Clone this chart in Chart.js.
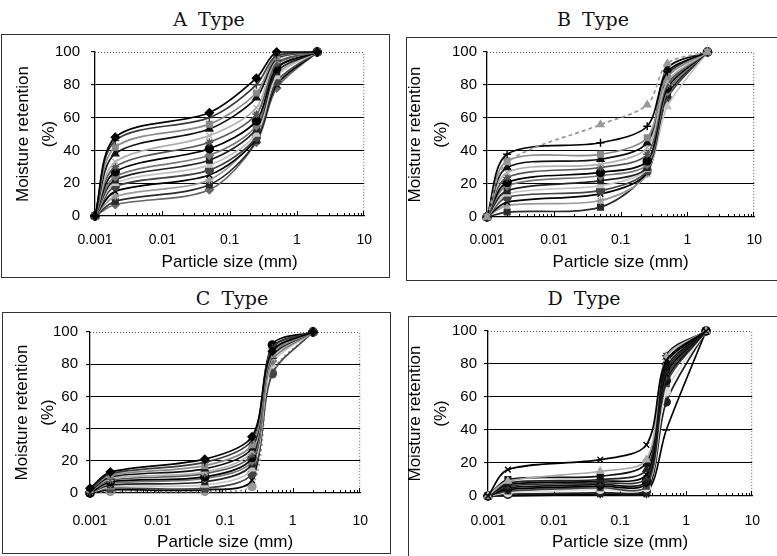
<!DOCTYPE html>
<html><head><meta charset="utf-8">
<script src="https://cdn.jsdelivr.net/npm/chart.js@4"></script>
<style>
html,body{margin:0;padding:0;background:#fff;}
body{width:777px;height:556px;position:relative;overflow:hidden;}
.frame{position:absolute;border:1px solid #333;box-sizing:border-box;}
.ttl{position:absolute;font-family:"DejaVu Serif",serif;font-size:19px;color:#111;word-spacing:5px;transform:translate(-50%,-50%);white-space:nowrap;}
canvas{position:absolute;}
</style></head><body>
<div class="frame" style="left:1px;top:34px;width:389px;height:244px"></div>
<div class="frame" style="left:406px;top:37px;width:380px;height:244px"></div>
<div class="frame" style="left:2px;top:312px;width:389px;height:242px"></div>
<div class="frame" style="left:408px;top:316px;width:380px;height:250px"></div>
<div class="ttl" style="left:209px;top:19px">A Type</div>
<div class="ttl" style="left:593px;top:19px">B Type</div>
<div class="ttl" style="left:232px;top:298px">C Type</div>
<div class="ttl" style="left:584px;top:298px">D Type</div>
<canvas id="cA" width="388" height="250" style="left:0px;top:30px"></canvas>
<canvas id="cB" width="387" height="250" style="left:390px;top:30px"></canvas>
<canvas id="cC" width="388" height="251" style="left:0px;top:305px"></canvas>
<canvas id="cD" width="387" height="251" style="left:390px;top:305px"></canvas>
<script>
// ---- data ----
const particleSizes = [0.001, 0.002, 0.05, 0.25, 0.5, 2];
const xTickValues = [0.001, 0.01, 0.1, 1, 10];
const xTickLabels = ['0.001', '0.01', '0.1', '1', '10'];
const yTickValues = [0, 20, 40, 60, 80, 100];
const yTickLabels = ['0', '20', '40', '60', '80', '100'];
const panelTitles = ['A Type', 'B Type', 'C Type', 'D Type'];
const xAxisTitle = 'Particle size (mm)';
const yAxisTitle = ['Moisture retention', '(%)'];

const typeA = [
  [0, 48, 63, 84, 100, 100],
  [0, 46, 60, 80, 98, 100],
  [0, 42, 56, 75, 97, 100],
  [0, 38, 53, 72, 96, 100],
  [0, 33, 49, 66, 95, 100],
  [0, 30, 45, 62, 93, 100],
  [0, 27, 41, 58, 90, 100],
  [0, 24, 37, 55, 92, 100],
  [0, 22, 34, 53, 88, 100],
  [0, 20, 31, 50, 85, 100],
  [0, 18, 28, 48, 82, 100],
  [0, 15, 25, 47, 80, 100],
  [0, 12, 22, 49, 86, 100],
  [0, 9, 19, 46, 90, 100],
  [0, 7, 16, 45, 78, 100]
];
const typeB = [
  [0, 33, 56, 68, 93, 100],
  [0, 38, 45, 55, 88, 100],
  [0, 34, 38, 48, 85, 100],
  [0, 30, 35, 45, 90, 100],
  [0, 27, 32, 42, 82, 100],
  [0, 24, 30, 38, 80, 100],
  [0, 21, 27, 34, 78, 100],
  [0, 19, 25, 32, 76, 100],
  [0, 16, 22, 30, 74, 100],
  [0, 14, 19, 29, 67, 100],
  [0, 12, 16, 28, 72, 100],
  [0, 9, 14, 27, 80, 100],
  [0, 7, 10, 26, 84, 100],
  [0, 3, 6, 28, 86, 100]
];
const typeC = [
  [3, 13, 21, 35, 88, 100],
  [2, 12, 19, 33, 90, 100],
  [2, 11, 17, 30, 86, 100],
  [1, 10, 15, 28, 85, 100],
  [1, 9, 13, 26, 84, 100],
  [1, 8, 12, 24, 88, 100],
  [0, 7, 10, 22, 92, 100],
  [0, 6, 9, 20, 82, 100],
  [0, 5, 7, 18, 86, 100],
  [0, 4, 5, 15, 80, 100],
  [0, 3, 3, 12, 74, 100],
  [0, 2, 2, 8, 90, 100],
  [0, 1, 1, 4, 75, 100]
];
const typeD = [
  [0, 16, 22, 31, 82, 100],
  [0, 9, 15, 22, 84, 100],
  [0, 10, 12, 20, 78, 100],
  [0, 8, 10, 16, 76, 100],
  [0, 7, 9, 13, 74, 100],
  [0, 6, 8, 11, 72, 100],
  [0, 5, 7, 9, 70, 100],
  [0, 4, 6, 8, 80, 100],
  [0, 3, 5, 6, 68, 100],
  [0, 2, 4, 5, 63, 100],
  [0, 1, 2, 3, 57, 100],
  [0, 0, 1, 2, 40, 100],
  [0, 1, 1, 1, 85, 100]
];

// ---- styles ----
const palette = ['#000000','#3a3a3a','#8a8a8a','#111111','#b0b0b0','#555555','#000000','#777777','#222222','#c4c4c4','#444444','#000000','#999999','#2a2a2a','#666666'];
const shapes = ['rectRot','cross','rect','triangle','crossRot','star','circle','rectRot','rect','triangle','circle','crossRot','star','rect','rectRot'];
const overrides = {
  B: {0: {color:'#999999', shape:'triangle', dash:[4,3]}, 1: {color:'#000000', shape:'cross'}},
  C: {12: {color:'#999999', shape:'circle', dash:[2,3]}},
  D: {0: {color:'#000000', shape:'crossRot'}, 1: {color:'#aaaaaa', shape:'triangle'}, 9: {color:'#dddddd', shape:'circle'}, 11: {color:'#000000', shape:'line'}}
};
const darkD = ['#000000','#aaaaaa','#111111','#222222','#000000','#333333','#111111','#000000','#444444','#dddddd','#222222','#000000','#111111'];

const layouts = {
  A: {id:'cA', values:typeA, padTop:22, padRight:20, yW:95, xH:64, yTickPad:11, yTitlePad:10, xTickPad:16, xTitlePad:7},
  B: {id:'cB', values:typeB, padTop:22, padRight:15, yW:97, xH:63, yTickPad:6, yTitlePad:12, xTickPad:15, xTitlePad:7},
  C: {id:'cC', values:typeC, padTop:27, padRight:20, yW:90, xH:63, yTickPad:8, yTitlePad:9, xTickPad:20, xTitlePad:3},
  D: {id:'cD', values:typeD, padTop:26, padRight:14, yW:98, xH:60, yTickPad:7, yTitlePad:12, xTickPad:17, xTitlePad:3}
};

Chart.defaults.font.family = "'Liberation Sans', Arial, sans-serif";
Chart.defaults.color = '#000';

const plotBox = {
  id: 'plotBox',
  beforeDatasetsDraw(chart) {
    const {ctx, chartArea: {left, right, top, bottom}} = chart;
    const xs = chart.scales.x;
    ctx.save();
    ctx.strokeStyle = '#555';
    ctx.lineWidth = 1;
    ctx.setLineDash([1, 2]);
    ctx.beginPath();
    ctx.moveTo(left, top + 0.5);
    ctx.lineTo(right - 0.5, top + 0.5);
    ctx.lineTo(right - 0.5, bottom);
    ctx.stroke();
    ctx.setLineDash([]);
    ctx.strokeStyle = '#000';
    ctx.beginPath();
    for (let k = -3; k <= 0; k++) {
      for (let m = 1; m <= 9; m++) {
        const v = m * Math.pow(10, k);
        const px = Math.round(xs.getPixelForValue(v)) + 0.5;
        const len = m === 1 ? 5 : 3;
        ctx.moveTo(px, bottom);
        ctx.lineTo(px, bottom - len);
      }
    }
    const p10 = Math.round(xs.getPixelForValue(10)) - 0.5;
    ctx.moveTo(p10, bottom); ctx.lineTo(p10, bottom - 5);
    ctx.stroke();
    ctx.restore();
  }
};

function makeChart(key) {
  const L = layouts[key];
  const ov = overrides[key] || {};
  const datasets = L.values.map((vals, i) => {
    let color = key === 'D' ? darkD[i % darkD.length] : palette[i % palette.length];
    let shape = shapes[i % shapes.length];
    let dash = [];
    if (ov[i]) { color = ov[i].color || color; shape = ov[i].shape || shape; dash = ov[i].dash || dash; }
    return {
      label: key + (i + 1),
      data: particleSizes.map((x, j) => ({x: x, y: vals[j]})),
      borderColor: color,
      backgroundColor: color,
      borderWidth: 1.7,
      borderDash: dash,
      pointStyle: shape,
      pointRadius: 4,
      pointBorderWidth: 1.4,
      pointBorderColor: color,
      pointBackgroundColor: color,
      tension: 0.3,
      clip: false,
      fill: false
    };
  });
  return new Chart(document.getElementById(L.id), {
    type: 'line',
    data: {datasets},
    plugins: [plotBox],
    options: {
      responsive: false,
      animation: false,
      events: [],
      layout: {padding: {top: L.padTop, right: L.padRight, left: 0, bottom: 0}},
      plugins: {legend: {display: false}, tooltip: {enabled: false}, title: {display: false}},
      scales: {
        x: {
          type: 'logarithmic', min: 0.001, max: 10,
          afterBuildTicks: s => { s.ticks = xTickValues.map(v => ({value: v})); },
          afterFit: s => { s.height = L.xH; },
          ticks: {autoSkip: false, maxRotation: 0, padding: L.xTickPad, color: '#000',
                  font: {size: 14}, callback: (v, i) => xTickLabels[i]},
          grid: {display: true, drawOnChartArea: false, drawTicks: false},
          border: {display: true, color: '#000', width: 1.3},
          title: {display: true, text: xAxisTitle, color: '#000', font: {size: 17},
                  padding: {top: 0, bottom: L.xTitlePad}}
        },
        y: {
          min: 0, max: 100,
          afterBuildTicks: s => { s.ticks = yTickValues.map(v => ({value: v})); },
          afterFit: s => { s.width = L.yW; },
          ticks: {padding: L.yTickPad, color: '#000', font: {size: 15}, callback: (v, i) => yTickLabels[i]},
          grid: {
            color: c => (c.tick && (c.tick.value === 0 || c.tick.value === 100)) ? 'rgba(0,0,0,0)' : '#000',
            lineWidth: 1.1, tickLength: 4, tickColor: '#000', drawTicks: true
          },
          border: {display: true, color: '#000', width: 1.3},
          title: {display: true, text: yAxisTitle, color: '#000', font: {size: 17, lineHeight: '26px'},
                  padding: {top: L.yTitlePad, bottom: 0}}
        }
      }
    }
  });
}
['A', 'B', 'C', 'D'].forEach(makeChart);
</script>
</body></html>
